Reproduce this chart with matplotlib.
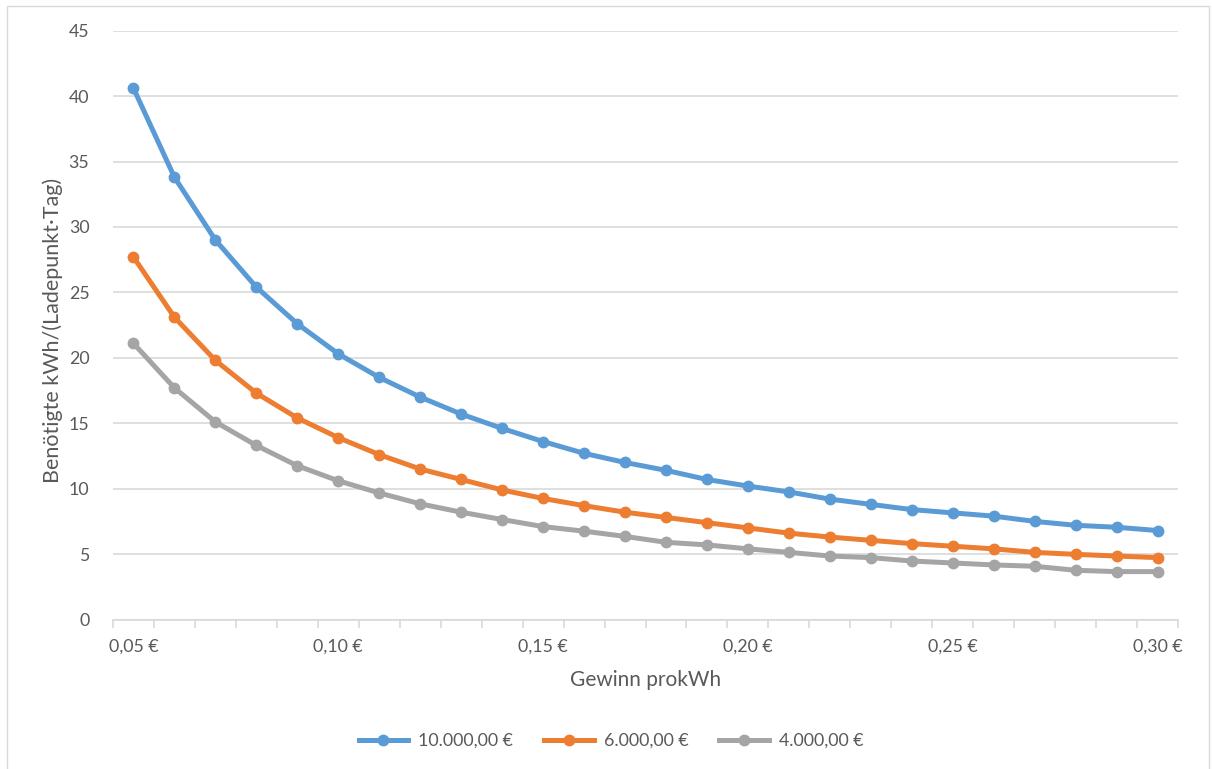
import matplotlib
matplotlib.use("Agg")
import matplotlib.pyplot as plt
from matplotlib.lines import Line2D
from matplotlib.patches import Rectangle

# Profit per kWh (categories)
categories = [0.05, 0.06, 0.07, 0.08, 0.09, 0.10, 0.11, 0.12, 0.13, 0.14,
              0.15, 0.16, 0.17, 0.18, 0.19, 0.20, 0.21, 0.22, 0.23, 0.24,
              0.25, 0.26, 0.27, 0.28, 0.29, 0.30]

# Required kWh per charging point and day, by investment
series_10000 = [40.6, 33.8, 29.0, 25.4, 22.6, 20.3, 18.5, 17.0, 15.7, 14.6,
                13.6, 12.7, 12.0, 11.4, 10.7, 10.2, 9.75, 9.2, 8.8, 8.4,
                8.15, 7.9, 7.5, 7.2, 7.05, 6.8]
series_6000 = [27.7, 23.1, 19.8, 17.3, 15.4, 13.9, 12.6, 11.5, 10.7, 9.9,
               9.25, 8.7, 8.2, 7.8, 7.4, 7.0, 6.6, 6.3, 6.05, 5.8,
               5.6, 5.4, 5.13, 4.98, 4.85, 4.73]
series_4000 = [21.1, 17.7, 15.1, 13.3, 11.75, 10.6, 9.67, 8.84, 8.2, 7.64,
               7.1, 6.75, 6.35, 5.9, 5.7, 5.4, 5.13, 4.85, 4.73, 4.47,
               4.32, 4.17, 4.07, 3.76, 3.66, 3.66]

series_labels = ["10.000,00 €", "6.000,00 €", "4.000,00 €"]
series_colors = ["#5B9BD5", "#ED7D31", "#A5A5A5"]

y_ticks = [0, 5, 10, 15, 20, 25, 30, 35, 40, 45]

TEXT = "#595959"
GRID = "#D9D9D9"
FONT = ["Lato", "DejaVu Sans"]

plt.rcParams["font.family"] = FONT

W, H = 1212, 769
fig = plt.figure(figsize=(W / 100, H / 100), dpi=100)

# chart frame
fig.patches.append(Rectangle((7 / W, -0.01), (1209 - 7) / W, (H - 6) / H + 0.01,
                             transform=fig.transFigure, fill=False,
                             edgecolor=GRID, linewidth=1.0))

left, right = 113 / W, 1178 / W
bottom, top = (H - 619.5) / H, (H - 30.7) / H
ax = fig.add_axes([left, bottom, right - left, top - bottom])

x = list(range(len(categories)))
for vals, lab, col in zip([series_10000, series_6000, series_4000],
                          series_labels, series_colors):
    ax.plot(x, vals, color=col, linewidth=3.6, marker="o", markersize=7.5,
            label=lab, solid_capstyle="round", zorder=3)

ax.set_xlim(-0.5, len(categories) - 0.5)
ax.set_ylim(0, 45)
ax.set_yticks(y_ticks)
ax.set_yticklabels([str(v) for v in y_ticks])
ax.yaxis.grid(True, color=GRID, linewidth=1.2)
ax.set_axisbelow(True)

# category labels every fifth value, tick marks between categories
major = [i for i in x if i % 5 == 0]
ax.set_xticks(major)
ax.set_xticklabels([f"{categories[i]:.2f}".replace(".", ",") + " €" for i in major])
ax.set_xticks([i - 0.5 for i in range(len(categories) + 1)], minor=True)
ax.tick_params(axis="x", which="major", length=0, pad=14, labelsize=12.8,
               labelcolor=TEXT)
ax.tick_params(axis="x", which="minor", length=6, width=1.2, color=GRID,
               direction="out")
ax.tick_params(axis="y", length=0, pad=17, labelsize=12.8, labelcolor=TEXT)

for s in ["top", "right", "left"]:
    ax.spines[s].set_visible(False)
ax.spines["bottom"].set_color(GRID)
ax.spines["bottom"].set_linewidth(1.2)

fig.text(646 / W, 1 - 680 / H, "Gewinn prokWh", ha="center", va="center",
         fontsize=15, color=TEXT)
fig.text(53 / W, 1 - 330 / H, "Benötigte kWh/(Ladepunkt·Tag)", ha="center",
         va="center", rotation=90, fontsize=15.5, color=TEXT)

handles = [Line2D([0], [0], color=c, linewidth=3.6, marker="o", markersize=7.5)
           for c in series_colors]
fig.legend(handles, series_labels, loc="center", bbox_to_anchor=(611 / W, 1 - 741 / H),
           ncol=3, frameon=False, fontsize=12.8, labelcolor=TEXT,
           handlelength=2.8, handletextpad=0.55, columnspacing=1.75)

fig.savefig("out.png", dpi=100, facecolor="white")
